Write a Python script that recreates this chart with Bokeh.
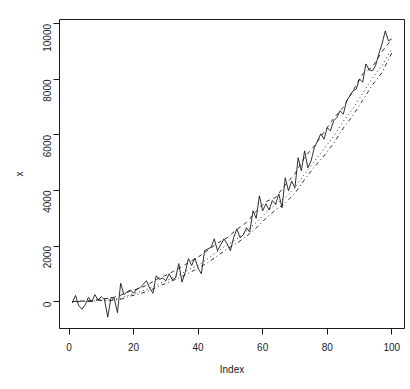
import math
from bokeh.plotting import figure
from bokeh.models import FixedTicker, Range1d
from bokeh.embed import file_html
from bokeh.resources import INLINE

# data
index = list(range(1, 101))
x = [-50, 220, -150, -280, -120, 150, -20, 250, 50, 180,
     60, -560, 150, 120, -400, 660, 250, 350, 420, 300,
     450, 500, 620, 750, 480, 300, 930, 800, 850, 750,
     1000, 780, 850, 1370, 700, 1050, 1550, 1300, 1570, 1200,
     1000, 1830, 1900, 1950, 2260, 1830, 2050, 2260, 2080, 1830,
     2300, 2620, 2300, 2400, 2660, 2500, 3270, 3000, 3810, 3270,
     3520, 3300, 3640, 3500, 3880, 3380, 4460, 3990, 4340, 4100,
     5180, 4710, 5430, 4820, 5060, 5540, 5780, 6040, 5850, 6260,
     6150, 6510, 6630, 6870, 6750, 7230, 7400, 7590, 7650, 8020,
     7900, 8560, 8350, 8310, 8500, 8920, 9280, 9750, 9390, 9460]

smooth_index = [1, 4, 7, 10, 13, 16, 19, 22, 25, 28, 31, 34, 37, 40, 43, 46, 49,
                52, 55, 58, 61, 64, 67, 70, 73, 76, 79, 82, 85, 88, 91, 94, 97, 100]
dashed = [0, 20, 30, 100, 120, 230, 380, 480, 650, 850, 1000, 1200, 1400, 1600, 1850,
          2100, 2300, 2600, 2850, 3250, 3600, 3750, 4200, 4600, 5200, 5600, 6100,
          6600, 7000, 7600, 8200, 8450, 9000, 9450]
dotted = [0, 10, 20, 60, 60, 120, 250, 350, 480, 650, 800, 950, 1150, 1300, 1550,
          1800, 2050, 2250, 2550, 2850, 3200, 3500, 3750, 4100, 4600, 5050, 5500,
          5950, 6500, 6950, 7500, 8050, 8500, 9100]
dotdash = [0, 5, 10, 40, 40, 80, 200, 280, 400, 560, 700, 850, 1020, 1200, 1400,
           1650, 1900, 2100, 2350, 2650, 3000, 3300, 3550, 3900, 4400, 4850, 5250,
           5700, 6250, 6700, 7250, 7800, 8250, 8950]

x_ticks = [0, 20, 40, 60, 80, 100]
y_ticks = [0, 2000, 4000, 6000, 8000, 10000]

FONT = "Liberation Sans"
INK = "#1a1a1a"

p = figure(width=410, height=389, output_backend="svg", toolbar_location=None,
           x_range=Range1d(-2.96, 103.96), y_range=Range1d(-970, 10160),
           min_border_left=59, min_border_right=6, min_border_top=19,
           min_border_bottom=61)
p.background_fill_color = "white"
p.border_fill_color = "white"
p.outline_line_color = INK
p.outline_line_width = 1
p.xgrid.visible = False
p.ygrid.visible = False

p.line(index, x, line_color=INK, line_width=0.9)
p.line(smooth_index, dashed, line_color=INK, line_width=0.9, line_dash="4 4")
p.line(smooth_index, dotted, line_color=INK, line_width=0.9, line_dash="1 3")
p.line(smooth_index, dotdash, line_color=INK, line_width=0.9, line_dash="1 3 4 3")

for ax in (p.xaxis[0], p.yaxis[0]):
    ax.axis_line_color = INK
    ax.major_tick_line_color = INK
    ax.major_tick_out = 6
    ax.major_tick_in = 0
    ax.minor_tick_line_color = None
    ax.major_label_text_font = FONT
    ax.major_label_text_font_size = "10px"
    ax.major_label_text_color = INK
    ax.axis_label_text_font = FONT
    ax.axis_label_text_font_size = "10px"
    ax.axis_label_text_font_style = "normal"
    ax.axis_label_text_color = INK

p.xaxis[0].ticker = FixedTicker(ticks=x_ticks)
p.xaxis[0].bounds = (0, 100)
p.xaxis[0].axis_label = "Index"
p.xaxis[0].major_label_standoff = 8
p.xaxis[0].axis_label_standoff = 10

p.yaxis[0].ticker = FixedTicker(ticks=y_ticks)
p.yaxis[0].bounds = (0, 10000)
p.yaxis[0].axis_label = "x"
p.yaxis[0].major_label_orientation = math.pi / 2
p.yaxis[0].major_label_standoff = 6
p.yaxis[0].axis_label_standoff = 12

open("out.html", "w").write(file_html(p, INLINE))
